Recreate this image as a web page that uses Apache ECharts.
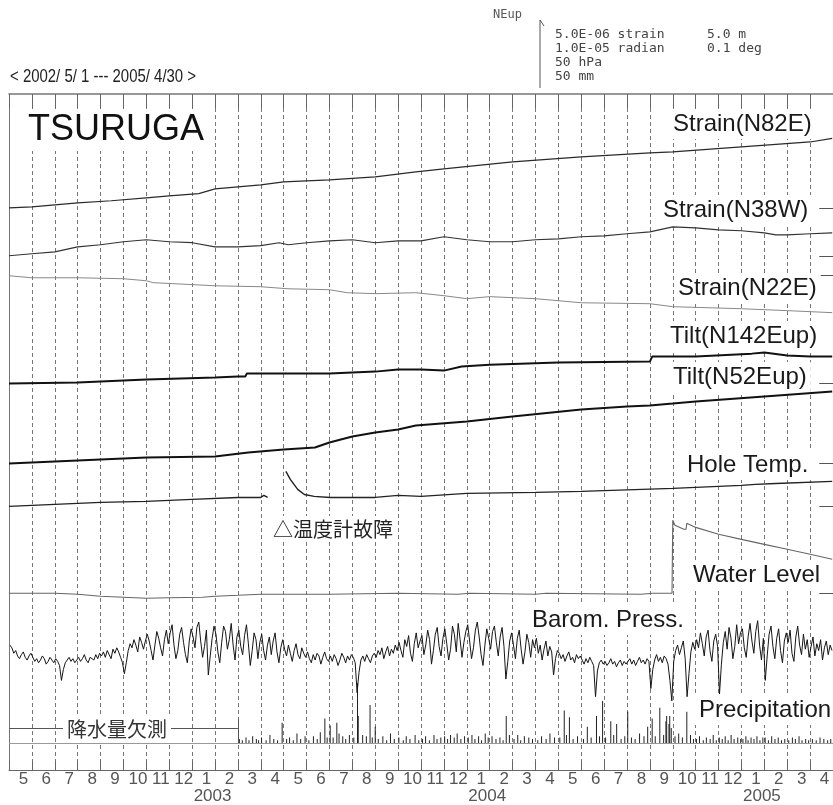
<!DOCTYPE html>
<html>
<head>
<meta charset="utf-8">
<script src="https://cdn.jsdelivr.net/npm/echarts@6/dist/echarts.min.js"></script>
<style>
html, body { margin: 0; padding: 0; background: #fff; }
#chart { width: 833px; height: 805px; }
</style>
</head>
<body>
<div id="chart"></div>
<script>
// ---- Axis labels -------------------------------------------------------
const monthLabels = [
  '5','6','7','8','9','10','11','12','1','2','3','4',
  '5','6','7','8','9','10','11','12','1','2','3','4',
  '5','6','7','8','9','10','11','12','1','2','3','4'
];
const yearLabels = ['2003', '2004', '2005'];

// ---- Borehole records, [date, value] ----------------------------------
// strain change, 1e-6
const strainN82E = [
  ['2002-05-01',0],['2002-06-01',0.07],['2002-08-01',0.37],['2002-09-15',0.52],
  ['2002-11-01',0.74],['2002-12-01',0.88],['2003-01-10',1.05],['2003-02-01',1.40],
  ['2003-04-01',1.69],['2003-05-01',1.91],['2003-07-01',2.06],['2003-09-01',2.28],
  ['2003-10-25',2.65],['2003-12-01',2.87],['2004-03-01',3.38],['2004-06-01',3.75],
  ['2004-09-01',4.04],['2004-10-01',4.12],['2005-01-01',4.49],['2005-04-01',4.85],
  ['2005-04-30',5.12]
];
const strainN38W = [
  ['2002-05-01',0],['2002-06-01',0.15],['2002-07-01',0.29],['2002-08-01',0.66],
  ['2002-09-01',0.81],['2002-10-01',1.03],['2002-11-01',1.18],['2002-12-01',1.03],
  ['2003-01-01',0.96],['2003-02-01',0.66],['2003-03-01',0.66],['2003-04-01',0.74],
  ['2003-04-25',0.96],['2003-05-07',0.81],['2003-06-01',0.96],['2003-07-01',1.10],
  ['2003-08-01',1.18],['2003-09-01',0.96],['2003-10-01',1.10],['2003-11-01',1.10],
  ['2003-12-01',1.40],['2004-01-01',1.18],['2004-02-01',1.03],['2004-03-01',1.03],
  ['2004-04-01',1.18],['2004-05-01',1.25],['2004-06-01',1.40],['2004-07-01',1.47],
  ['2004-08-01',1.62],['2004-09-01',1.76],['2004-10-01',2.13],['2004-11-01',2.06],
  ['2004-12-01',1.91],['2005-01-01',1.84],['2005-02-01',1.69],['2005-02-15',1.54],
  ['2005-03-01',1.54],['2005-04-01',1.62],['2005-04-30',1.69]
];
const strainN22E = [
  ['2002-05-01',0],['2002-06-01',-0.15],['2002-08-01',-0.15],['2002-10-01',-0.22],
  ['2002-11-01',-0.37],['2002-11-10',-0.51],['2003-02-01',-0.74],['2003-04-01',-0.81],
  ['2003-05-07',-0.96],['2003-07-01',-1.03],['2003-07-25',-1.25],['2003-09-01',-1.32],
  ['2003-10-25',-1.25],['2003-12-01',-1.47],['2004-01-01',-1.69],['2004-02-01',-1.54],
  ['2004-04-01',-1.69],['2004-06-01',-1.99],['2004-09-01',-2.06],['2004-10-01',-2.28],
  ['2005-01-01',-2.43],['2005-03-01',-2.57],['2005-04-30',-2.72]
];
// tilt change, 1e-6 radian
const tiltN142E = [
  ['2002-05-01',0],['2002-08-01',0.15],['2002-11-01',0.59],['2003-02-01',0.88],
  ['2003-03-01',1.03],['2003-03-11',1.03],['2003-03-13',1.47],['2003-05-15',1.47],
  ['2003-07-01',1.47],['2003-09-01',1.76],['2003-10-01',2.06],['2003-11-01',2.06],
  ['2003-12-01',1.91],['2003-12-25',2.50],['2004-02-01',2.79],['2004-05-01',3.09],
  ['2004-09-01',3.24],['2004-09-04',3.97],['2004-11-01',3.97],['2005-01-15',4.41],
  ['2005-02-01',4.56],['2005-03-01',4.12],['2005-04-01',3.97],['2005-04-30',3.97]
];
const tiltN52E = [
  ['2002-05-01',0],['2002-08-01',0.44],['2002-11-01',0.88],['2003-02-01',1.03],
  ['2003-03-15',1.62],['2003-05-01',2.06],['2003-06-12',2.35],['2003-07-01',3.09],
  ['2003-08-01',3.97],['2003-09-01',4.56],['2003-10-01',5.00],['2003-10-25',5.59],
  ['2004-01-01',6.18],['2004-03-01',6.91],['2004-06-01',7.94],['2004-08-01',8.38],
  ['2004-09-01',8.53],['2004-10-01',8.82],['2004-11-01',9.12],['2005-02-01',9.85],
  ['2005-04-30',10.59]
];
// hole temperature change, 1e-3 deg (null = thermometer out of order)
const holeTemp = [
  ['2002-05-01',0],['2002-07-01',2.9],['2002-09-01',5.9],['2002-11-01',7.4],
  ['2003-01-01',10.3],['2003-03-01',13.2],['2003-04-01',13.2],['2003-04-05',16.2],
  ['2003-04-10',13.2],['2003-04-20',null],
  ['2003-05-04',51.5],['2003-05-10',39.7],['2003-05-20',25.0],['2003-05-29',17.6],
  ['2003-06-11',14.7],['2003-07-02',13.2],['2003-09-01',13.2],['2003-10-01',16.2],
  ['2003-11-01',14.7],['2004-01-01',19.1],['2004-04-01',20.6],['2004-06-01',22.1],
  ['2004-10-01',26.5],['2005-01-01',30.9],['2005-01-20',32.4],['2005-02-15',33.8],
  ['2005-04-30',36.8]
];
// water level change, m
const waterLevel = [
  ['2002-05-01',0],['2002-07-01',0],['2002-08-01',-0.07],['2002-09-01',-0.22],
  ['2002-11-01',-0.37],['2002-12-01',-0.33],['2003-01-15',-0.29],['2003-02-01',-0.22],
  ['2003-03-01',-0.15],['2003-04-01',-0.07],['2003-07-01',-0.07],['2003-10-01',0],
  ['2003-12-20',-0.07],['2004-01-05',0],['2004-04-01',-0.07],['2004-04-15',0],
  ['2004-08-20',-0.07],['2004-09-05',0],['2004-09-30',0],['2004-10-01',5.37],
  ['2004-10-04',5.00],['2004-10-16',4.71],['2004-10-19',4.71],['2004-10-20',5.15],
  ['2004-11-01',4.85],['2004-12-01',4.34],['2005-01-01',3.97],['2005-02-01',3.60],
  ['2005-03-01',3.24],['2005-04-01',2.87],['2005-04-30',2.50]
];
// barometric pressure, hPa, twelve readings per month from 2002-05
const pressure = [
  1016,1014,1010,1012,1008,1006,1009,1011,1007,1005,1008,1010,
  1007,1004,1006,1003,1005,1008,1006,1002,1004,1007,1005,1003,
  1006,1004,1001,990,998,1003,1005,1007,1004,1006,1003,1005,
  1007,1004,1006,1009,1005,1003,1007,1008,1005,1009,1006,1010,
  1008,1011,1007,1012,1009,1006,1013,1010,1014,1011,1007,1003,
  995,1003,1012,1017,1014,1020,1016,1011,1022,1018,1013,1019,
  1024,1019,1012,1005,1016,1026,1021,1014,1008,1020,1027,1017,
  1025,1031,1016,1006,1012,1024,1029,1018,1009,1003,1019,1028,
  1022,1014,1029,1033,1019,1007,1015,1027,994,1008,1021,1030,
  1024,1011,1003,1018,1030,1026,1013,1020,1032,1016,1005,1022,
  1027,1015,1009,1023,1031,1017,1001,1012,1025,1020,1006,1018,
  1024,1012,1005,1016,1022,1009,1019,1025,1011,1003,1014,1020,
  1013,1008,1016,1010,1004,1012,1017,1009,1006,1014,1010,1007,
  1011,1006,1003,1009,1005,1010,1008,1002,1007,1011,1006,1004,
  1008,1004,1009,1006,1001,1005,1010,1007,1003,1008,1005,1009,
  1007,1003,981,996,1005,1008,1004,1009,1006,1003,1008,1010,
  1007,1012,1009,1014,1006,1011,1015,1008,1013,1010,1016,1012,
  1018,1012,1007,1020,1015,1023,1010,1004,1017,1025,1014,1019,
  1023,1009,1016,1027,1020,1002,1012,1024,1029,1015,1008,1021,
  1028,1017,1005,1013,1030,1024,1011,1032,1020,1007,1018,1026,
  1031,1019,1006,1014,1027,1033,1022,1009,1001,1016,1028,1021,
  1013,1026,1030,1018,1008,1022,1029,1015,991,1004,1019,1025,
  1016,1006,1021,1027,1013,1002,1011,1024,1018,1007,1020,1014,
  1021,1010,1016,1005,1013,1019,1008,1015,1011,994,1006,1012,
  1010,1006,1009,1004,1008,1011,1005,1007,1003,1009,1006,1008,
  1005,1002,1006,1003,1007,1004,1001,978,997,1003,1005,1002,
  1004,1001,1003,1006,1002,1004,1000,1003,1005,1001,1004,1002,
  1003,1006,1002,1005,1001,1004,1007,1003,1005,1002,1006,1004,
  984,998,1005,1009,1004,1007,1003,1008,1006,1002,990,975,
  1004,1012,1016,1009,1014,1019,1006,978,995,1011,1018,1013,
  1020,1014,1025,1017,1008,1022,1027,1012,1004,1019,1024,1015,
  980,1002,1018,1026,1013,1029,1021,1006,1015,1031,1017,1025,
  1028,1014,1007,1022,1032,1019,1010,1026,1034,1016,1005,1021,
  990,1008,1024,1030,1015,1006,1021,1028,1012,1003,1019,1025,
  1018,1027,1010,1004,1022,1030,1016,1009,1024,1013,1020,1007,
  1015,1022,1008,1017,1012,1020,1005,1014,1019,1009,1016,1012
];
// daily precipitation, mm (no record before 2003-03)
const precipitation = [
  ['2003-03-03',3],['2003-03-07',2],['2003-03-12',4],['2003-03-16',2],['2003-03-21',5],['2003-03-26',3],['2003-03-29',2],
  ['2003-04-02',4],['2003-04-08',2],['2003-04-13',6],['2003-04-18',3],['2003-04-23',2],['2003-04-29',15],
  ['2003-05-05',3],['2003-05-09',4],['2003-05-14',2],['2003-05-19',7],['2003-05-24',3],['2003-05-30',5],
  ['2003-06-04',2],['2003-06-10',5],['2003-06-15',3],['2003-06-19',8],['2003-06-25',18],['2003-06-28',4],
  ['2003-07-02',13],['2003-07-06',4],['2003-07-11',15],['2003-07-14',7],['2003-07-19',5],['2003-07-23',3],['2003-07-28',6],
  ['2003-08-03',4],['2003-08-08',44],['2003-08-09',20],['2003-08-15',6],['2003-08-20',5],['2003-08-25',28],['2003-08-28',4],
  ['2003-09-01',12],['2003-09-05',3],['2003-09-11',5],['2003-09-16',2],['2003-09-21',7],['2003-09-26',3],
  ['2003-10-02',4],['2003-10-08',2],['2003-10-12',5],['2003-10-17',3],['2003-10-24',6],['2003-10-29',2],
  ['2003-11-03',3],['2003-11-07',5],['2003-11-12',2],['2003-11-18',6],['2003-11-22',3],['2003-11-27',4],
  ['2003-12-02',5],['2003-12-06',3],['2003-12-10',6],['2003-12-15',4],['2003-12-19',7],['2003-12-24',3],['2003-12-29',5],
  ['2004-01-03',4],['2004-01-08',6],['2004-01-12',3],['2004-01-17',5],['2004-01-21',2],['2004-01-26',7],['2004-01-30',4],
  ['2004-02-04',5],['2004-02-09',3],['2004-02-14',4],['2004-02-18',2],['2004-02-22',20],['2004-02-26',6],
  ['2004-03-03',3],['2004-03-08',6],['2004-03-12',2],['2004-03-17',5],['2004-03-23',4],['2004-03-28',3],
  ['2004-04-04',2],['2004-04-09',5],['2004-04-15',3],['2004-04-20',7],['2004-04-26',4],
  ['2004-05-03',4],['2004-05-09',24],['2004-05-12',6],['2004-05-16',19],['2004-05-21',3],['2004-05-27',5],
  ['2004-06-04',3],['2004-06-09',12],['2004-06-14',4],['2004-06-21',20],['2004-06-25',5],['2004-06-29',31],
  ['2004-07-03',4],['2004-07-10',16],['2004-07-14',6],['2004-07-18',14],['2004-07-24',3],['2004-07-29',5],
  ['2004-08-02',23],['2004-08-07',4],['2004-08-12',3],['2004-08-18',7],['2004-08-24',5],['2004-08-29',12],
  ['2004-09-04',18],['2004-09-08',5],['2004-09-14',26],['2004-09-19',6],['2004-09-22',16],['2004-09-23',20],['2004-09-26',14],['2004-09-27',20],['2004-09-29',11],
  ['2004-10-04',5],['2004-10-09',7],['2004-10-14',4],['2004-10-20',23],['2004-10-25',6],['2004-10-29',3],
  ['2004-11-02',3],['2004-11-06',5],['2004-11-11',2],['2004-11-15',4],['2004-11-20',3],['2004-11-24',6],['2004-11-28',2],
  ['2004-12-02',4],['2004-12-06',3],['2004-12-10',5],['2004-12-14',2],['2004-12-18',6],['2004-12-22',3],['2004-12-27',4],['2004-12-31',3],
  ['2005-01-03',3],['2005-01-07',5],['2005-01-10',2],['2005-01-14',4],['2005-01-18',3],['2005-01-22',5],['2005-01-26',2],['2005-01-30',4],
  ['2005-02-02',4],['2005-02-06',2],['2005-02-10',5],['2005-02-14',3],['2005-02-18',4],['2005-02-22',2],['2005-02-26',3],
  ['2005-03-03',2],['2005-03-08',4],['2005-03-12',3],['2005-03-17',5],['2005-03-21',2],['2005-03-26',3],['2005-03-30',2],
  ['2005-04-04',3],['2005-04-09',2],['2005-04-14',4],['2005-04-19',3],['2005-04-24',2],['2005-04-28',3]
];

// ---- Helpers -------------------------------------------------------------
// months since 2002-05-01 (fractional)
function toMonth(s) {
  const [y, m, d] = s.split('-').map(Number);
  const dim = new Date(y, m, 0).getDate();
  return (y - 2002) * 12 + (m - 5) + (d - 1) / dim;
}
function pairs(list) {
  return list.map(([d, v]) => [toMonth(d), v === null ? '-' : v]);
}

// plot frame in page pixels
const FRAME_TOP = 94, FRAME_BOTTOM = 771;
const PLOT_H = FRAME_BOTTOM - FRAME_TOP;
// length of the scale bar: 5e-6 strain, 1e-5 rad, 50 hPa, 50 mm, 5 m, 0.1 deg
const BAR = 68;
// each trace gets its own value axis: baseline pixel row + pixels per unit
function band(zeroY, pxPerUnit, ref) {
  ref = ref || 0;
  const min = ref - (FRAME_BOTTOM - zeroY) / pxPerUnit;
  return { min: min, max: min + PLOT_H / pxPerUnit };
}
const bands = [
  band(208, BAR / 5),        // strain N82E
  band(256, BAR / 5),        // strain N38W
  band(276, BAR / 5),        // strain N22E
  band(384, BAR / 10),       // tilt N142E
  band(464, BAR / 10),       // tilt N52E
  band(507, BAR / 100),      // hole temperature (1e-3 deg)
  band(594, BAR / 5),        // water level
  band(650, BAR / 50, 1013), // barometric pressure
  band(744, BAR / 50)        // precipitation
];
const yAxes = bands.map((b, i) => ({
  type: 'value', min: b.min, max: b.max, show: i === 0,
  position: 'left',
  axisLine: { show: true, lineStyle: { color: '#777', width: 1 } },
  axisTick: { show: false }, axisLabel: { show: false }, splitLine: { show: false }
}));

const LATIN = "'Liberation Sans', Arial, Helvetica, sans-serif";
const CJK = "'Noto Sans CJK JP', 'Noto Sans CJK SC', sans-serif";
const MONO = "'DejaVu Sans Mono', 'Liberation Mono', monospace";

// short reference mark at the right edge for each trace's start level
function refMark() {
  return {
    silent: true, symbol: 'none', label: { show: false },
    lineStyle: { color: '#555', width: 1, type: 'solid' },
    data: [[{ coord: [35.4, 0] }, { coord: [36, 0] }]]
  };
}
function trace(name, list, axis, color, width) {
  return {
    name: name, type: 'line', xAxisIndex: 0, yAxisIndex: axis,
    data: pairs(list), showSymbol: false, symbol: 'none',
    connectNulls: false, animation: false,
    lineStyle: { color: color, width: width },
    markLine: refMark()
  };
}

const PER_MONTH = 12;
const pressData = pressure.map((v, i) => [(i + 0.5) / PER_MONTH, v]);
const yearRow = monthLabels.map(() => '');
yearLabels.forEach((y, k) => { yearRow[8 + 12 * k] = y; });
const precipStart = toMonth('2003-03-01');

const series = [
  trace('Strain(N82E)', strainN82E, 0, '#2a2a2a', 1.2),
  trace('Strain(N38W)', strainN38W, 1, '#333', 1.2),
  trace('Strain(N22E)', strainN22E, 2, '#888', 1),
  trace('Tilt(N142Eup)', tiltN142E, 3, '#111', 2),
  trace('Tilt(N52Eup)', tiltN52E, 4, '#111', 2),
  trace('Hole Temp.', holeTemp, 5, '#222', 1.4),
  trace('Water Level', waterLevel, 6, '#666', 1.1),
  {
    name: 'Barom. Press.', type: 'line', xAxisIndex: 0, yAxisIndex: 7,
    data: pressData, showSymbol: false, symbol: 'none', animation: false,
    lineStyle: { color: '#151515', width: 1 }
  },
  {
    name: 'Precipitation', type: 'bar', xAxisIndex: 0, yAxisIndex: 8,
    data: pairs(precipitation), barWidth: 1, animation: false,
    itemStyle: { color: '#222' },
    markLine: {
      silent: true, symbol: 'none',
      lineStyle: { color: '#999', width: 1, type: 'solid' },
      label: { show: false },
      data: [
        { yAxis: 0 },
        // bracket over the period without rain gauge record
        [
          { coord: [0, 11], lineStyle: { color: '#555' } },
          { coord: [precipStart, 11] }
        ],
        [
          { coord: [precipStart, 17.6], lineStyle: { color: '#555' } },
          { coord: [precipStart, 0] }
        ]
      ]
    }
  }
];

// text tags drawn over the gridlines
function tag(text, left, cy, size, font, color) {
  return {
    type: 'text', x: left - 4, y: cy, z: 100,
    style: {
      text: text, font: size + 'px ' + font, fill: color || '#1a1a1a',
      verticalAlign: 'middle', align: 'left',
      backgroundColor: '#fff', padding: [3, 4]
    }
  };
}
const graphics = [
  tag('TSURUGA', 28, 130, 36, LATIN, '#111'),
  tag('Strain(N82E)', 673, 124, 24, LATIN),
  tag('Strain(N38W)', 663, 210, 24, LATIN),
  tag('Strain(N22E)', 678, 288, 24, LATIN),
  tag('Tilt(N142Eup)', 670, 336, 24, LATIN),
  tag('Tilt(N52Eup)', 673, 377, 24, LATIN),
  tag('Hole Temp.', 687, 465, 24, LATIN),
  tag('△温度計故障', 273, 529, 20, CJK, '#222'),
  tag('Water Level', 693, 575, 24, LATIN),
  tag('Barom. Press.', 532, 620, 24, LATIN),
  tag('Precipitation', 699, 710, 24, LATIN),
  tag('降水量欠測', 67, 729, 20, CJK, '#333'),
  {
    type: 'text', x: 10, y: 77, scaleX: 0.83,
    style: { text: '< 2002/ 5/ 1 --- 2005/ 4/30 >', font: '18px ' + LATIN,
      fill: '#222', verticalAlign: 'middle', align: 'left' }
  },
  // scale bar
  { type: 'polyline', shape: { points: [[540, 20 + BAR], [540, 20]] },
    style: { stroke: '#555', lineWidth: 1, fill: null } },
  { type: 'polyline', shape: { points: [[540, 20], [544, 26]] },
    style: { stroke: '#555', lineWidth: 1, fill: null } },
  { type: 'text', x: 493, y: 15,
    style: { text: 'NEup', font: '12px ' + MONO, fill: '#555', verticalAlign: 'middle' } },
  { type: 'text', x: 555, y: 28,
    style: { text: '5.0E-06 strain\n1.0E-05 radian\n50 hPa\n50 mm', font: '13px ' + MONO,
      fill: '#444', verticalAlign: 'top', lineHeight: 14 } },
  { type: 'text', x: 707, y: 28,
    style: { text: '5.0 m\n0.1 deg', font: '13px ' + MONO,
      fill: '#444', verticalAlign: 'top', lineHeight: 14 } }
];

const chart = echarts.init(document.getElementById('chart'), null, { renderer: 'canvas' });
chart.setOption({
  animation: false,
  backgroundColor: '#fff',
  grid: { left: 9, right: -6, top: FRAME_TOP, bottom: 805 - FRAME_BOTTOM, containLabel: false },
  xAxis: [
    {
      type: 'value', min: 0, max: 36, interval: 1, position: 'bottom',
      axisLine: { show: true, onZero: false, lineStyle: { color: '#666', width: 1 } },
      axisTick: { show: true, inside: true, length: 9, lineStyle: { color: '#666' } },
      axisLabel: { show: false },
      splitLine: { show: true, lineStyle: { color: '#777', width: 1, type: [4, 3] } }
    },
    {
      type: 'category', data: monthLabels, position: 'bottom', boundaryGap: true,
      axisLine: { show: false }, axisTick: { show: false }, splitLine: { show: false },
      axisLabel: { interval: 0, margin: 1, fontSize: 17, color: '#555',
        fontFamily: LATIN, padding: [0, 0, 0, 6], hideOverlap: false }
    },
    {
      type: 'category', data: yearRow, position: 'bottom', boundaryGap: true,
      axisLine: { show: false }, axisTick: { show: false }, splitLine: { show: false },
      axisLabel: { interval: 0, margin: 18, fontSize: 17, color: '#555',
        fontFamily: LATIN, padding: [0, 0, 0, 18], hideOverlap: false }
    },
    {
      type: 'value', min: 0, max: 36, interval: 1, position: 'top',
      axisLine: { show: true, onZero: false, lineStyle: { color: '#777', width: 1.5 } },
      axisTick: { show: true, inside: true, length: 14, lineStyle: { color: '#666' } },
      axisLabel: { show: false }, splitLine: { show: false }
    }
  ],
  yAxis: yAxes,
  series: series,
  graphic: graphics
});
</script>
</body>
</html>
